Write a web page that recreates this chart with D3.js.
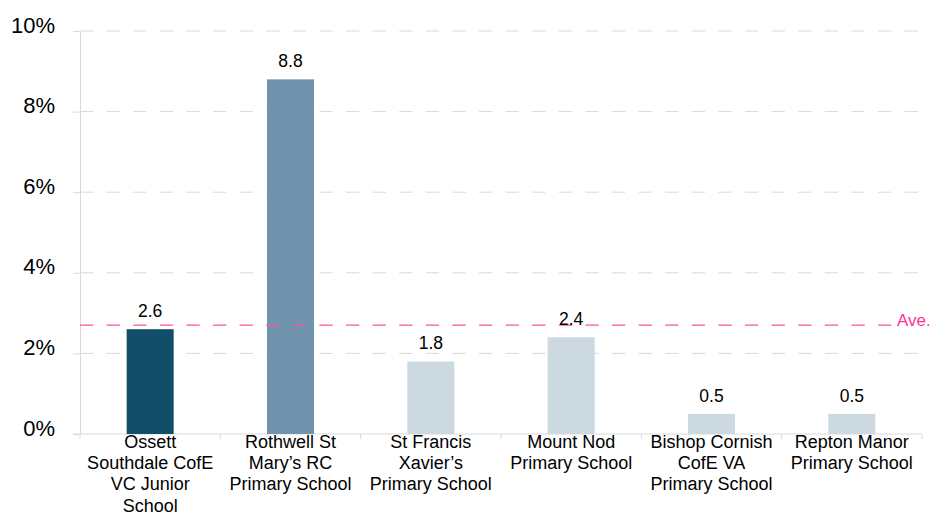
<!DOCTYPE html>
<html lang="en">
<head>
<meta charset="UTF-8">
<title>Schools chart</title>
<script src="https://d3js.org/d3.v7.min.js"></script>
<style>
  body { margin: 0; background: #fff; }
  text { font-family: "Liberation Sans", Arial, sans-serif; fill: #000; }
</style>
</head>
<body>
<svg width="932" height="513"></svg>
<script>
  // data
  const schools = [
    "Ossett\nSouthdale CofE\nVC Junior\nSchool",
    "Rothwell St\nMary\u2019s RC\nPrimary School",
    "St Francis\nXavier\u2019s\nPrimary School",
    "Mount Nod\nPrimary School",
    "Bishop Cornish\nCofE VA\nPrimary School",
    "Repton Manor\nPrimary School"
  ];
  const values = [2.6, 8.8, 1.8, 2.4, 0.5, 0.5];
  const barColors = ["#124e69", "#7094ae", "#cdd9e1", "#cdd9e1", "#cdd9e1", "#cdd9e1"];
  const yTicks = [0, 2, 4, 6, 8, 10];
  const average = 2.7;

  const margin = {top: 31, right: 10, bottom: 79, left: 80},
        width = 922 - margin.left,
        height = 513 - margin.top - margin.bottom;

  const svg = d3.select("svg")
    .append("g")
    .attr("transform", "translate(" + margin.left + "," + margin.top + ")");

  const x = d3.scaleBand()
    .domain(d3.range(schools.length))
    .range([0, width])
    .paddingInner(0.665)
    .paddingOuter(0.3325);

  const y = d3.scaleLinear()
    .domain([0, 10])
    .range([height, 0]);

  // gridlines
  svg.selectAll(".grid")
    .data(yTicks.filter(d => d > 0))
    .enter().append("line")
    .attr("x1", 0)
    .attr("x2", width)
    .attr("y1", d => y(d))
    .attr("y2", d => y(d))
    .attr("stroke", "#d9d9d9")
    .attr("stroke-width", 1)
    .attr("stroke-dasharray", "13.3,13.3");

  // y axis
  const yAxis = svg.append("g")
    .call(d3.axisLeft(y).tickValues(yTicks).tickFormat(d => d + "%").tickSize(7).tickPadding(18));
  yAxis.select(".domain").attr("stroke", "#d9d9d9");
  yAxis.selectAll(".tick line").attr("stroke", "#d9d9d9");
  yAxis.selectAll(".tick text")
    .attr("dy", "0.05em")
    .style("font-size", "22px")
    .style("font-family", "'Liberation Sans', Arial, sans-serif");

  // x axis
  const step = width / schools.length;
  svg.append("line")
    .attr("x1", -7).attr("x2", width)
    .attr("y1", height).attr("y2", height)
    .attr("stroke", "#d9d9d9");
  svg.selectAll(".xtick")
    .data(d3.range(schools.length + 1))
    .enter().append("line")
    .attr("x1", d => d * step).attr("x2", d => d * step)
    .attr("y1", height).attr("y2", height + 5)
    .attr("stroke", "#d9d9d9");

  // bars
  svg.selectAll(".bar")
    .data(values)
    .enter().append("rect")
    .attr("x", (d, i) => x(i))
    .attr("width", x.bandwidth())
    .attr("y", d => y(d))
    .attr("height", d => height - y(d))
    .attr("fill", (d, i) => barColors[i]);

  // average line
  svg.append("line")
    .attr("x1", 0)
    .attr("x2", width - 30)
    .attr("y1", y(average))
    .attr("y2", y(average))
    .attr("stroke", "#ff4fa3")
    .attr("stroke-width", 1.2)
    .attr("stroke-dasharray", "13.3,13.3");

  svg.append("text")
    .attr("x", width - 25)
    .attr("y", y(average) + 1)
    .style("font-size", "17px")
    .style("fill", "#ff3399")
    .text("Ave.");

  // value labels
  svg.selectAll(".val")
    .data(values)
    .enter().append("text")
    .attr("x", (d, i) => x(i) + x.bandwidth() / 2)
    .attr("y", d => y(d) - 12)
    .attr("text-anchor", "middle")
    .style("font-size", "17.5px")
    .text(d => d.toFixed(1));

  // category labels
  const cat = svg.selectAll(".cat")
    .data(schools)
    .enter().append("text")
    .attr("text-anchor", "middle")
    .style("font-size", "18px")
    .attr("transform", (d, i) => `translate(${x(i) + x.bandwidth() / 2},${height + 14})`);

  cat.selectAll("tspan")
    .data(d => d.split("\n"))
    .enter().append("tspan")
    .attr("x", 0)
    .attr("y", (d, i) => i * 21.2)
    .text(d => d);
</script>
</body>
</html>
